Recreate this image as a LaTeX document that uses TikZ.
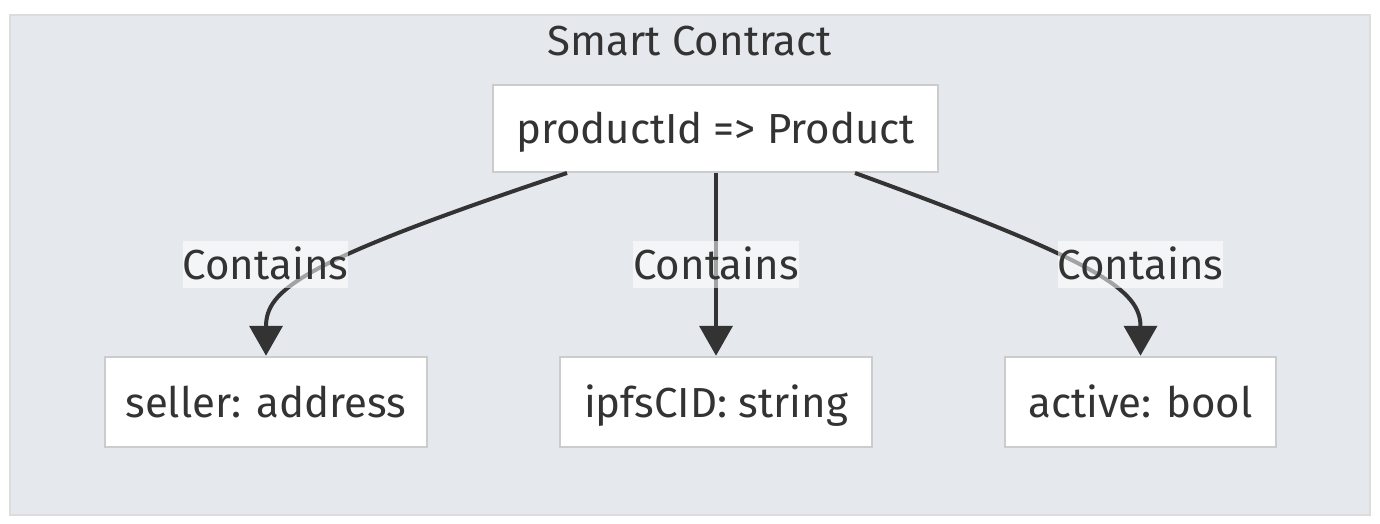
\documentclass[tikz,border=0pt]{standalone}
\usepackage{fontspec}
\setmainfont{Fira Sans}
\usetikzlibrary{arrows.meta}
\definecolor{clusterfill}{HTML}{E5E9EE}
\definecolor{clusterline}{HTML}{DCDCDC}
\definecolor{nodeline}{HTML}{CCCCCC}
\definecolor{ink}{HTML}{333333}
\tikzset{bigfont/.style={font=\fontsize{42}{48}\selectfont,text height=35pt,text depth=5pt}}
\begin{document}
\begin{tikzpicture}[x=1pt,y=-1pt,
  box/.style={draw=nodeline,line width=2.5pt,fill=white,text=ink,inner sep=0pt,bigfont},
  lbl/.style={fill=white,fill opacity=0.55,text opacity=1,text=ink,inner sep=0pt,
    minimum width=165pt,minimum height=47pt,bigfont},
  edge/.style={draw=ink,line width=4pt,-{Triangle[length=30pt,width=33pt]}}]
\useasboundingbox (0,0) rectangle (1380,524);
\fill[white] (0,0) rectangle (1380,524);
\draw[clusterline,fill=clusterfill,line width=2.5pt] (10,15) rectangle (1370,515);
\node[text=ink,bigfont] (title) at (690,41) {Smart Contract};
\node[box,minimum width=445pt,minimum height=87pt] (prod) at (715.5,128.5) {productId => Product};
\node[box,minimum width=322pt,minimum height=90pt] (seller) at (266,402) {seller: address};
\node[box,minimum width=312pt,minimum height=90pt] (ipfs) at (716,402) {ipfsCID: string};
\node[box,minimum width=271pt,minimum height=90pt] (active) at (1140.5,402) {active: bool};
\coordinate (s1) at (567,173);
\coordinate (s3) at (855,173);
\draw[edge] (s1) .. controls (300,262) and (266,290) .. (seller.north);
\draw[edge] (prod.south -| ipfs.north) -- (ipfs.north);
\draw[edge] (s3) .. controls (1100,262) and (1140.5,290) .. (active.north);
\node[lbl] (l1) at (265.5,264.5) {Contains};
\node[lbl] (l2) at (716,264.5) {Contains};
\node[lbl] (l3) at (1140.5,264.5) {Contains};
\end{tikzpicture}
\end{document}
